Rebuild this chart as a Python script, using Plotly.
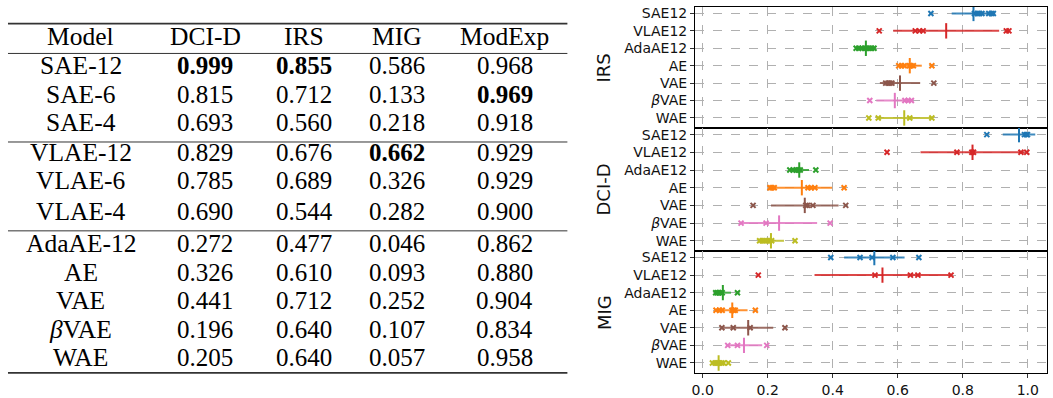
import plotly.graph_objects as go

# ---------------- Table data ----------------
table_models = ["SAE-12", "SAE-6", "SAE-4", "VLAE-12", "VLAE-6", "VLAE-4",
                "AdaAE-12", "AE", "VAE", "<i>β</i>VAE", "WAE"]
table_cols = ["Model", "DCI-D", "IRS", "MIG", "ModExp"]
dci_vals = [0.999, 0.815, 0.693, 0.829, 0.785, 0.690, 0.272, 0.326, 0.441, 0.196, 0.205]
irs_vals = [0.855, 0.712, 0.560, 0.676, 0.689, 0.544, 0.477, 0.610, 0.712, 0.640, 0.640]
mig_vals = [0.586, 0.133, 0.218, 0.662, 0.326, 0.282, 0.046, 0.093, 0.252, 0.107, 0.057]
modexp_vals = [0.968, 0.969, 0.918, 0.929, 0.929, 0.900, 0.862, 0.880, 0.904, 0.834, 0.958]

# ---------------- Plot data ----------------
plot_models = ["SAE12", "VLAE12", "AdaAE12", "AE", "VAE", "<i>β</i>VAE", "WAE"]
plot_colors = ["#1f77b4", "#d62728", "#2ca02c", "#ff7f0e", "#8c564b", "#e377c2", "#bcbd22"]
metric_names = ["IRS", "DCI-D", "MIG"]
x_tick_vals = [0.0, 0.2, 0.4, 0.6, 0.8, 1.0]
x_tick_text = ["0.0", "0.2", "0.4", "0.6", "0.8", "1.0"]

irs_center = [0.833, 0.749, 0.502, 0.637, 0.607, 0.591, 0.620]
irs_spread = [0.067, 0.163, 0.030, 0.037, 0.062, 0.057, 0.084]
irs_points = [
    [0.702, 0.836, 0.845, 0.852, 0.859, 0.880, 0.888, 0.894],
    [0.543, 0.654, 0.667, 0.678, 0.934, 0.942],
    [0.472, 0.480, 0.490, 0.498, 0.505, 0.512, 0.520, 0.527],
    [0.603, 0.612, 0.620, 0.636, 0.641, 0.648, 0.705],
    [0.563, 0.570, 0.576, 0.582, 0.711],
    [0.514, 0.622, 0.632, 0.642],
    [0.511, 0.540, 0.637, 0.705],
]

dci_center = [0.973, 0.830, 0.297, 0.305, 0.314, 0.235, 0.210]
dci_spread = [0.050, 0.160, 0.030, 0.093, 0.104, 0.117, 0.040]
dci_points = [
    [0.874, 0.990, 0.996, 0.999],
    [0.567, 0.782, 0.828, 0.833, 0.979, 0.997],
    [0.268, 0.278, 0.287, 0.294, 0.300, 0.348],
    [0.207, 0.213, 0.220, 0.324, 0.333, 0.345, 0.435],
    [0.155, 0.317, 0.322, 0.339, 0.440],
    [0.118, 0.195, 0.392],
    [0.175, 0.183, 0.190, 0.197, 0.205, 0.212, 0.284],
]

mig_center = [0.528, 0.553, 0.062, 0.091, 0.140, 0.127, 0.049]
mig_spread = [0.093, 0.209, 0.025, 0.047, 0.077, 0.056, 0.020]
mig_points = [
    [0.394, 0.484, 0.521, 0.585, 0.665],
    [0.171, 0.530, 0.639, 0.662, 0.764],
    [0.040, 0.045, 0.050, 0.055, 0.060, 0.107],
    [0.041, 0.052, 0.060, 0.090, 0.095, 0.100, 0.162],
    [0.059, 0.094, 0.146, 0.253],
    [0.077, 0.107, 0.197],
    [0.030, 0.038, 0.045, 0.050, 0.058, 0.064, 0.079],
]

# ---------------- Layout helpers ----------------
W, H = 1053, 398


def px(x):
    return x / W


def py(y):
    return 1 - y / H


fig = go.Figure()

panels = [
    (irs_center, irs_spread, irs_points),
    (dci_center, dci_spread, dci_points),
    (mig_center, mig_spread, mig_points),
]
panel_px = [(5, 126.7), (126.7, 250.3), (250.3, 373)]
x_dom = [px(694), px(1047)]
x_range = [-0.0236, 1.0592]
y_range = [6.58, -0.37]

for k, (centers, spreads, points) in enumerate(panels, start=1):
    xa = "x" if k == 1 else f"x{k}"
    ya = "y" if k == 1 else f"y{k}"
    for i, name in enumerate(plot_models):
        col = plot_colors[i]
        c, s = centers[i], spreads[i]
        fig.add_trace(go.Scatter(
            x=[c - s, c + s], y=[i, i], mode="lines",
            line=dict(color=col, width=2), opacity=0.85,
            xaxis=xa, yaxis=ya, hoverinfo="skip"))
        fig.add_trace(go.Scatter(
            x=points[i], y=[i] * len(points[i]), mode="markers",
            marker=dict(symbol="x-thin", size=5, line=dict(color=col, width=2)),
            xaxis=xa, yaxis=ya))
        fig.add_trace(go.Scatter(
            x=[c], y=[i], mode="markers",
            marker=dict(symbol="line-ns", size=11, line=dict(color=col, width=2)),
            xaxis=xa, yaxis=ya))

    top, bot = panel_px[k - 1]
    tick_font = dict(family="DejaVu Sans", size=14, color="#111")
    fig.layout[f"xaxis{'' if k == 1 else k}"] = dict(
        domain=x_dom, anchor=ya, range=x_range,
        tickvals=x_tick_vals, ticktext=x_tick_text,
        showticklabels=(k == 3), ticks="outside" if k == 3 else "",
        ticklen=4, tickcolor="#333", tickfont=tick_font,
        showgrid=True, gridcolor="#b0b0b0", griddash="dash", gridwidth=1,
        showline=True, mirror=True, linecolor="black", linewidth=1,
        zeroline=False, matches="x" if k != 1 else None)
    fig.layout[f"yaxis{'' if k == 1 else k}"] = dict(
        domain=[py(bot), py(top)], anchor=xa, range=y_range,
        tickvals=list(range(len(plot_models))), ticktext=plot_models,
        ticks="outside", ticklen=4, tickcolor="#333", tickfont=tick_font,
        showgrid=True, gridcolor="#b0b0b0", griddash="dash", gridwidth=1,
        showline=True, mirror=True, linecolor="black", linewidth=1,
        zeroline=False)
    fig.add_annotation(
        text=metric_names[k - 1], xref="paper", yref="paper",
        x=px(602.7), y=py((top + bot) / 2), textangle=-90,
        showarrow=False, xanchor="center", yanchor="middle",
        font=dict(family="DejaVu Sans", size=18, color="#111"))

# ---------------- Table ----------------
serif = "Liberation Serif"
col_x = [78, 203, 302, 395, 503]
header_y = 34.8
row_y = [64.2, 93.2, 121.5, 150.8, 179.8, 210.5, 242.5, 271.5, 300.5, 328.8, 357.2]

for j, h in enumerate(table_cols):
    fig.add_annotation(text=h, xref="paper", yref="paper", x=px(col_x[j]), y=py(header_y),
                       showarrow=False, xanchor="center", yanchor="middle",
                       font=dict(family=serif, size=25.5, color="black"))

value_cols = [dci_vals, irs_vals, mig_vals, modexp_vals]
for r, m in enumerate(table_models):
    fig.add_annotation(text=m, xref="paper", yref="paper", x=px(col_x[0]), y=py(row_y[r]),
                       showarrow=False, xanchor="center", yanchor="middle",
                       font=dict(family=serif, size=25.5, color="black"))
    for j, vals in enumerate(value_cols):
        v = vals[r]
        txt = f"{v:.3f}"
        if v == max(vals):
            txt = f"<b>{txt}</b>"
        fig.add_annotation(text=txt, xref="paper", yref="paper", x=px(col_x[j + 1]), y=py(row_y[r]),
                           showarrow=False, xanchor="center", yanchor="middle",
                           font=dict(family=serif, size=25, color="black"))

rules = [(21.7, 1.6), (51.7, 1.0), (140.7, 1.0), (230.0, 1.0), (372.7, 1.6)]
for yv, lw in rules:
    fig.add_shape(type="line", xref="paper", yref="paper",
                  x0=px(5), x1=px(566), y0=py(yv), y1=py(yv),
                  line=dict(color="#333", width=lw))

fig.update_layout(
    width=W, height=H, margin=dict(l=0, r=0, t=0, b=0),
    paper_bgcolor="white", plot_bgcolor="white", showlegend=False)

fig.write_html("out.html", config={"displayModeBar": False},
               post_script="document.body.style.margin='0';document.body.style.overflow='hidden';")
